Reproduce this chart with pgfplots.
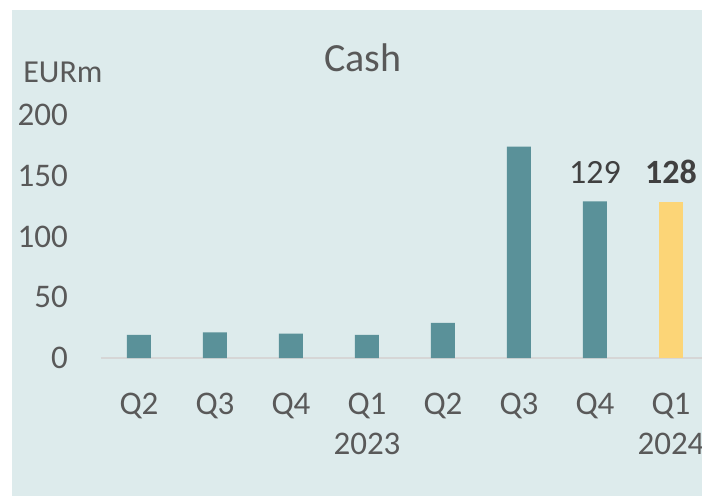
\documentclass[border=0pt]{standalone}
\usepackage{pgfplots}
\pgfplotsset{compat=1.18}
\usepackage{fontspec}
\setmainfont{Carlito}

\definecolor{bgcol}{HTML}{DDEBEC}
\definecolor{barteal}{HTML}{5A9199}
\definecolor{baryellow}{HTML}{FCD577}
\definecolor{txtgray}{HTML}{595959}
\definecolor{txtdark}{HTML}{404040}
\definecolor{axisgray}{HTML}{D6D6D6}

\begin{document}
\begin{tikzpicture}
% background panel (1px = 1pt, axis box lower-left at origin)
\fill[white] (-101pt,-138pt) rectangle (601pt,358pt);
\fill[bgcol] (-89pt,-138pt) rectangle (601pt,348pt);
\begin{axis}[
  at={(0,0)}, anchor=south west,
  scale only axis,
  width=608pt, height=243pt,
  xmin=-0.5, xmax=7.5, ymin=0, ymax=200,
  xtick={0,...,7},
  xticklabels={Q2,Q3,Q4,{Q1\\2023},Q2,Q3,Q4,{Q1\\2024}},
  ytick={0,50,100,150,200},
  major tick length=0pt,
  axis x line*=bottom, axis y line*=left,
  x axis line style={draw=axisgray, line width=1.5pt, -},
  y axis line style={draw=none},
  tick label style={font=\fontsize{33}{40}\selectfont, text=txtgray},
  yticklabel style={anchor=east, inner sep=0pt, xshift=-33pt},
  xticklabel style={align=center, anchor=north, inner sep=0pt, yshift=-35pt},
  /pgf/number format/assume math mode=true,
  clip=false,
]
\addplot[ybar, bar width=24pt, fill=barteal, draw=none]
  coordinates {(0,19) (1,21) (2,20) (3,19) (4,29) (5,174) (6,129)};
\addplot[ybar, bar width=24pt, fill=baryellow, draw=none]
  coordinates {(7,128)};
\node[anchor=base, yshift=18pt, text=txtdark, font=\fontsize{34}{40}\selectfont]
  at (axis cs:6,129) {129};
\node[anchor=base, yshift=19pt, text=txtdark, font=\fontsize{34}{40}\selectfont\bfseries]
  at (axis cs:7,128) {128};
\node[anchor=base, text=txtgray, font=\fontsize{40}{48}\selectfont]
  at (rel axis cs:0.431,1.181) {Cash};
\node[anchor=base west, inner sep=0pt, text=txtgray, font=\fontsize{32}{38}\selectfont]
  at (rel axis cs:-0.128,1.132) {EURm};
\end{axis}
\pgfresetboundingbox
\useasboundingbox (-101pt,-138pt) rectangle (601pt,358pt);
\end{tikzpicture}
\end{document}
